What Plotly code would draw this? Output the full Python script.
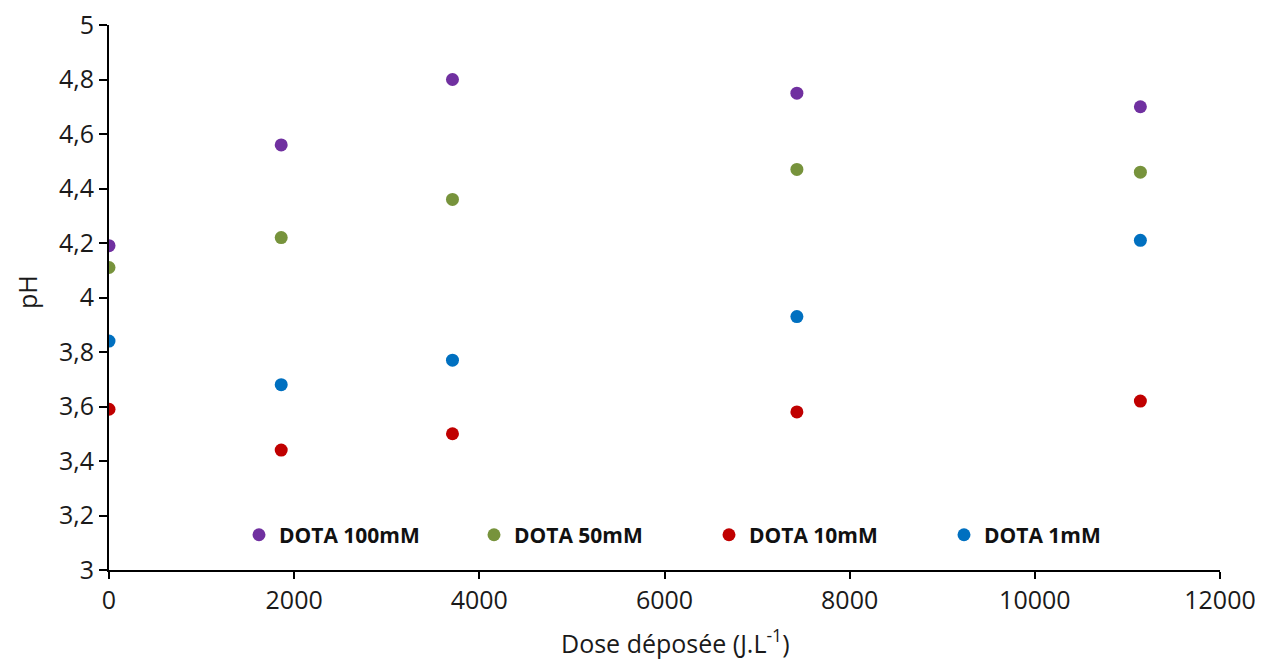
import plotly.graph_objects as go

dose = [0, 1860, 3710, 7430, 11140]
ph_100mM = [4.19, 4.56, 4.80, 4.75, 4.70]
ph_50mM = [4.11, 4.22, 4.36, 4.47, 4.46]
ph_10mM = [3.59, 3.44, 3.50, 3.58, 3.62]
ph_1mM = [3.84, 3.68, 3.77, 3.93, 4.21]

series_names = ["DOTA 100mM", "DOTA 50mM", "DOTA 10mM", "DOTA 1mM"]
series_values = [ph_100mM, ph_50mM, ph_10mM, ph_1mM]
colors = ["#7030A0", "#77933C", "#C00000", "#0070C0"]

x_ticks = [0, 2000, 4000, 6000, 8000, 10000, 12000]
y_ticks = [3, 3.2, 3.4, 3.6, 3.8, 4, 4.2, 4.4, 4.6, 4.8, 5]
y_ticklabels = ["3", "3,2", "3,4", "3,6", "3,8", "4", "4,2", "4,4", "4,6", "4,8", "5"]
x_title = "Dose déposée (J.L<sup>-1</sup>)"
y_title = "pH"

FONT = "Open Sans"

fig = go.Figure()
for name, vals, col in zip(series_names, series_values, colors):
    fig.add_trace(go.Scatter(
        x=dose, y=vals, mode="markers", name=name,
        marker=dict(color=col, size=13, line=dict(width=0)),
    ))

fig.update_layout(
    width=1255, height=654,
    paper_bgcolor="white", plot_bgcolor="white",
    margin=dict(l=101, r=43, t=17, b=92),
    font=dict(family=FONT, color="#1a1a1a", size=25),
    showlegend=True,
    legend=dict(
        orientation="h", x=0.117, y=0.064, xanchor="left", yanchor="middle",
        bgcolor="rgba(0,0,0,0)", font=dict(size=21, color="#111111", family=FONT, weight="bold"),
        entrywidth=190, entrywidthmode="pixels",
    ),
)
fig.update_xaxes(
    range=[0, 12000], tickvals=x_ticks, tickformat="d",
    showgrid=False, zeroline=False, showline=True, linecolor="black", linewidth=2,
    ticks="outside", ticklen=7, tickwidth=2, tickcolor="black",
    automargin=False, ticklabeloverflow="allow",
)
fig.update_yaxes(
    range=[3, 5], tickvals=y_ticks, ticktext=y_ticklabels,
    showgrid=False, zeroline=False, showline=True, linecolor="black", linewidth=2,
    ticks="outside", ticklen=8, tickwidth=2, tickcolor="black",
    automargin=False, ticklabeloverflow="allow",
)
fig.add_annotation(
    text=x_title, xref="paper", yref="paper", x=0.51, y=0,
    xanchor="center", yanchor="middle", yshift=-71, showarrow=False,
    font=dict(size=25, family=FONT, color="#1a1a1a"),
)
fig.add_annotation(
    text=y_title, xref="paper", yref="paper", x=0, y=0.51,
    xanchor="center", yanchor="middle", xshift=-82, textangle=-90, showarrow=False,
    font=dict(size=25, family=FONT, color="#1a1a1a"),
)
fig.write_html("out.html")
